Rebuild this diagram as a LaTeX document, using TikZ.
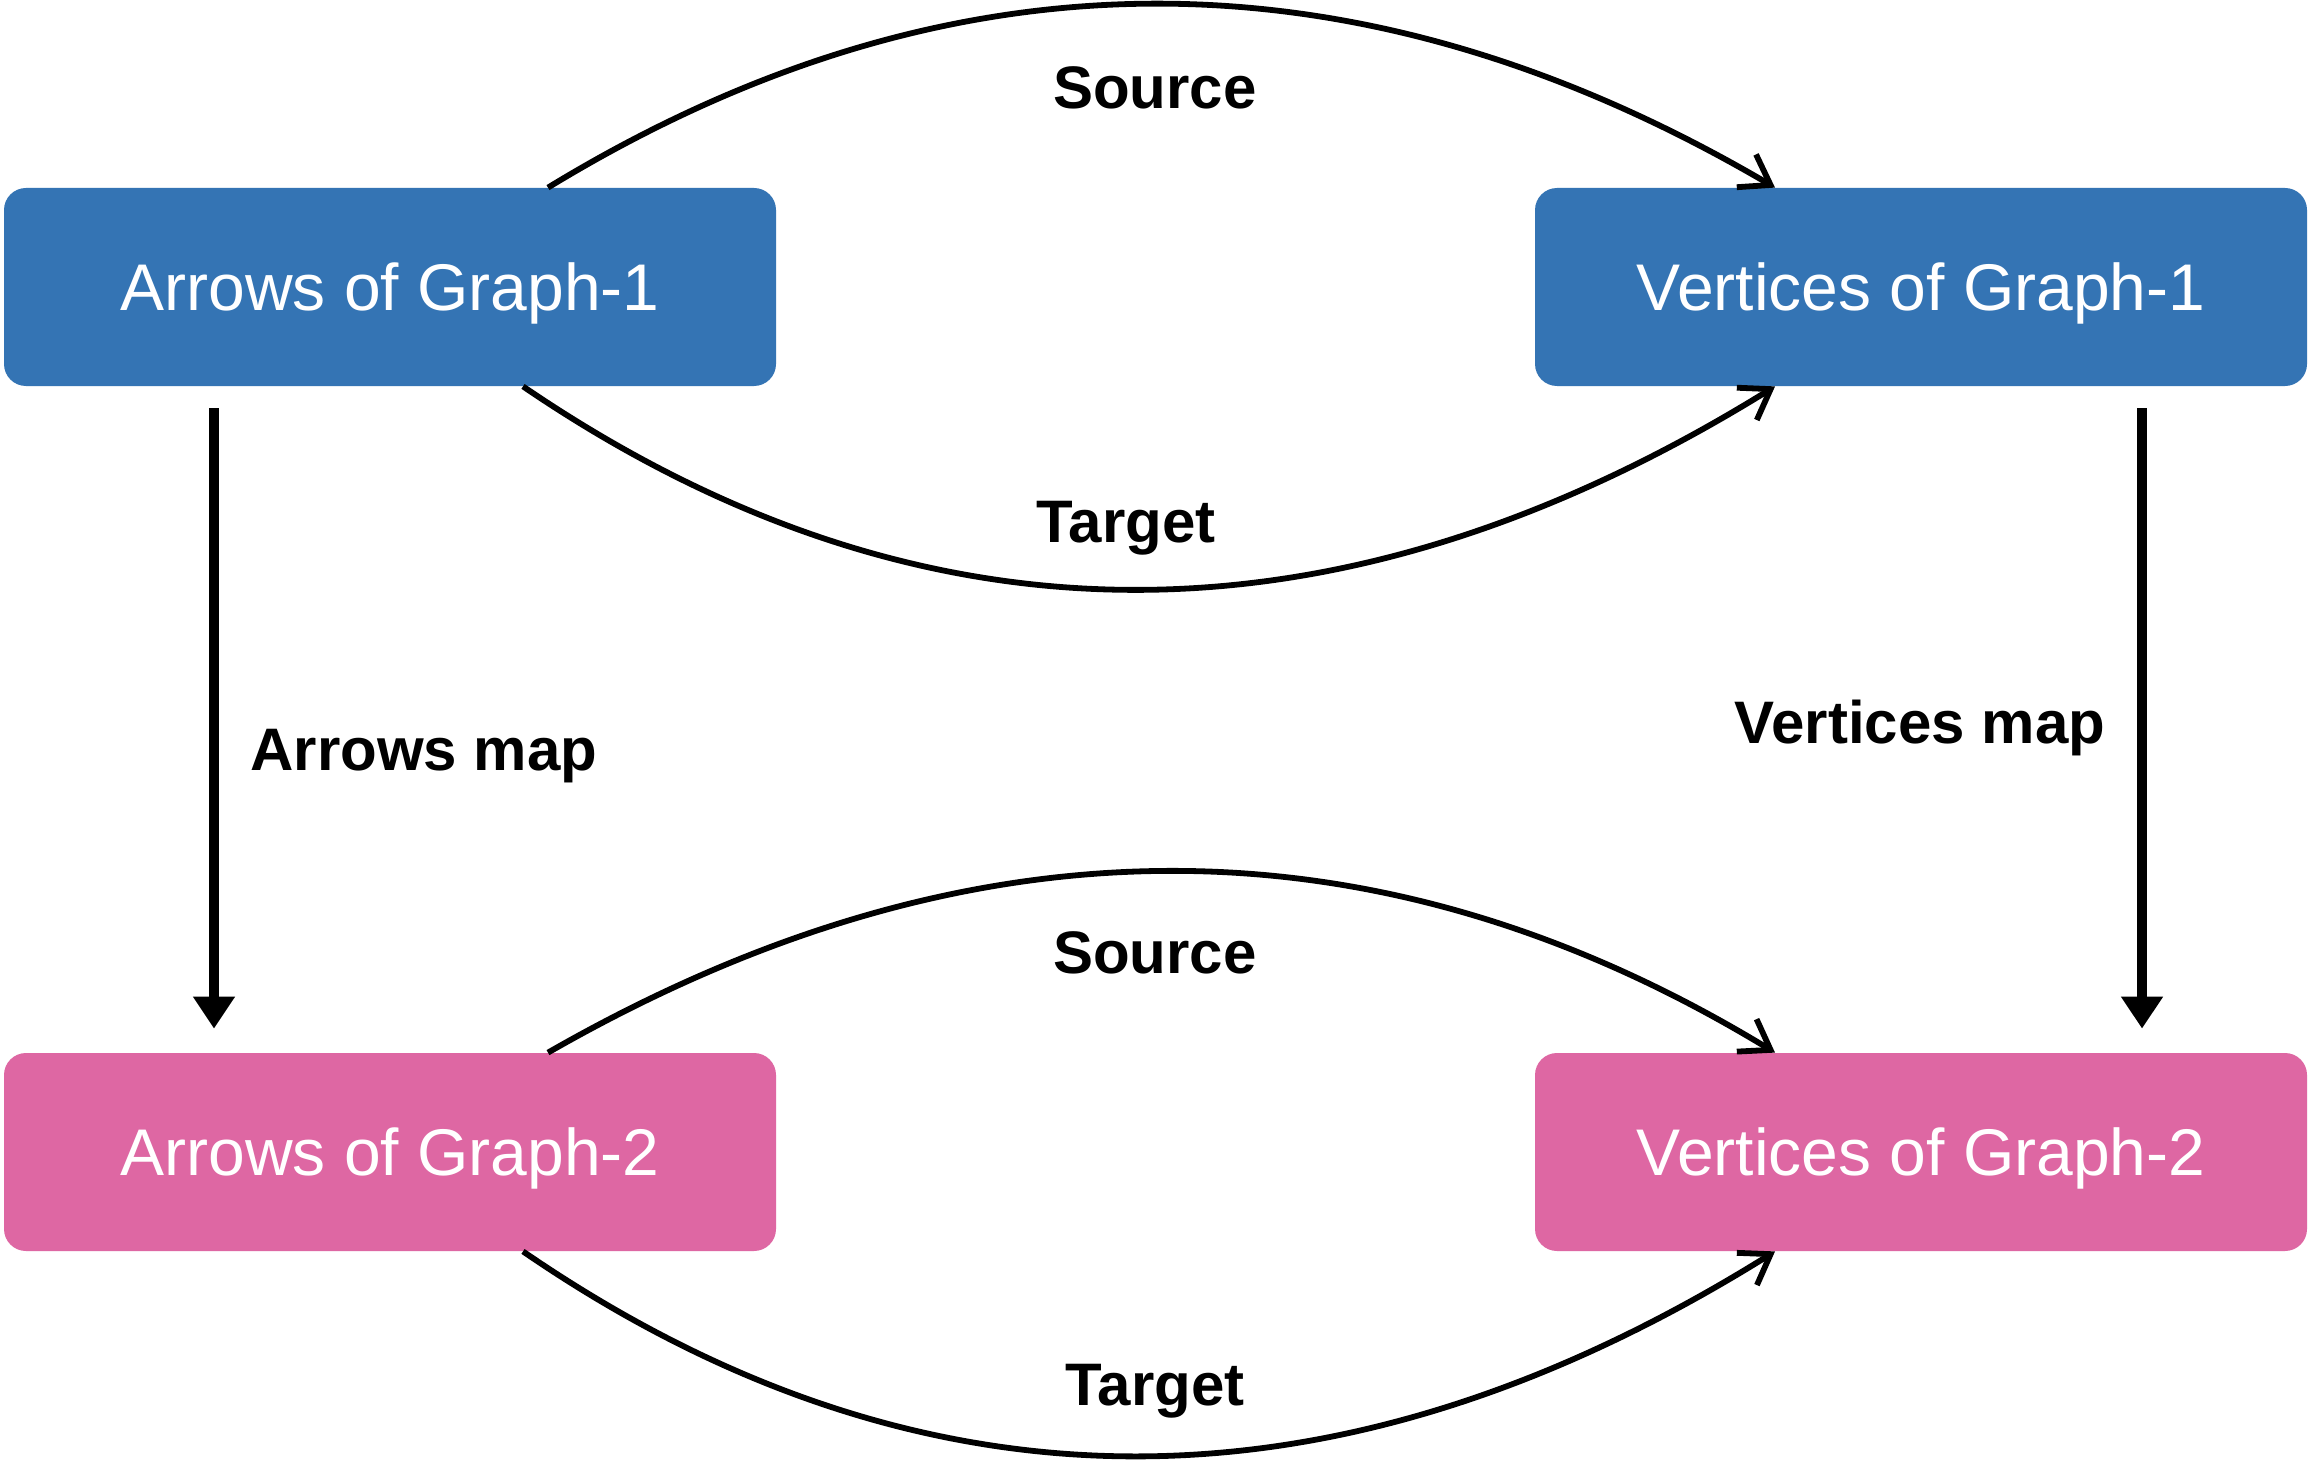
\documentclass[tikz,border=0pt]{standalone}
\usepackage{fontspec}
\setmainfont{Liberation Sans}
\usetikzlibrary{arrows.meta,calc}
\definecolor{boxblue}{RGB}{52,116,180}
\definecolor{boxpink}{RGB}{222,103,163}
\tikzset{
  gbox/.style={rounded corners=11pt, minimum width=386pt, minimum height=99pt,
    text=white, font=\fontsize{33}{39}\selectfont, inner sep=0pt, text depth=0pt},
  lbl/.style={font=\fontsize{30}{36}\selectfont\bfseries, inner sep=0pt, text depth=0pt},
  curve/.style={line width=2.9pt, -{Straight Barb[length=14pt,width=19pt]}},
  mapar/.style={line width=4.6pt, -{Triangle[length=16pt,width=20pt]}}
}
\begin{document}
\begin{tikzpicture}[x=0.5pt,y=-0.5pt]
\useasboundingbox[fill=white] (0,0) rectangle (2310,1460);
\node[gbox, fill=boxblue] (a1) at (390,287) {Arrows of Graph-1};
\node[gbox, fill=boxblue] (v1) at (1921,287) {Vertices of Graph-1};
\node[gbox, fill=boxpink] (a2) at (390,1152) {Arrows of Graph-2};
\node[gbox, fill=boxpink] (v2) at (1921,1152) {Vertices of Graph-2};
% labels
\node[lbl] (s1) at (1155,88) {Source};
\node[lbl] (t1) at (1126,522) {Target};
\node[lbl] (am) at (424,750) {Arrows map};
\node[lbl] (vm) at (1920,722) {Vertices map};
\node[lbl] (s2) at (1155,953) {Source};
\node[lbl] (t2) at (1155,1385) {Target};
% source / target curves, graph 1
\draw[curve] ($(a1.north)+(158,0)$) .. controls (949,-57) and (1358,-57) .. ($(v1.north)+(-146,0)$);
\draw[curve] ($(a1.south)+(133,0)$) .. controls (920,657) and (1338,657) .. ($(v1.south)+(-146,0)$);
% source / target curves, graph 2
\draw[curve] ($(a2.north)+(158,0)$) .. controls (969,811) and (1378,811) .. ($(v2.north)+(-146,0)$);
\draw[curve] ($(a2.south)+(133,0)$) .. controls (920,1524) and (1338,1524) .. ($(v2.south)+(-146,0)$);
% maps
\draw[mapar] ($(a1.south)+(-176,22)$) -- ($(a2.north)+(-176,-24)$);
\draw[mapar] ($(v1.south)+(221,22)$) -- ($(v2.north)+(221,-24)$);
\end{tikzpicture}
\end{document}
